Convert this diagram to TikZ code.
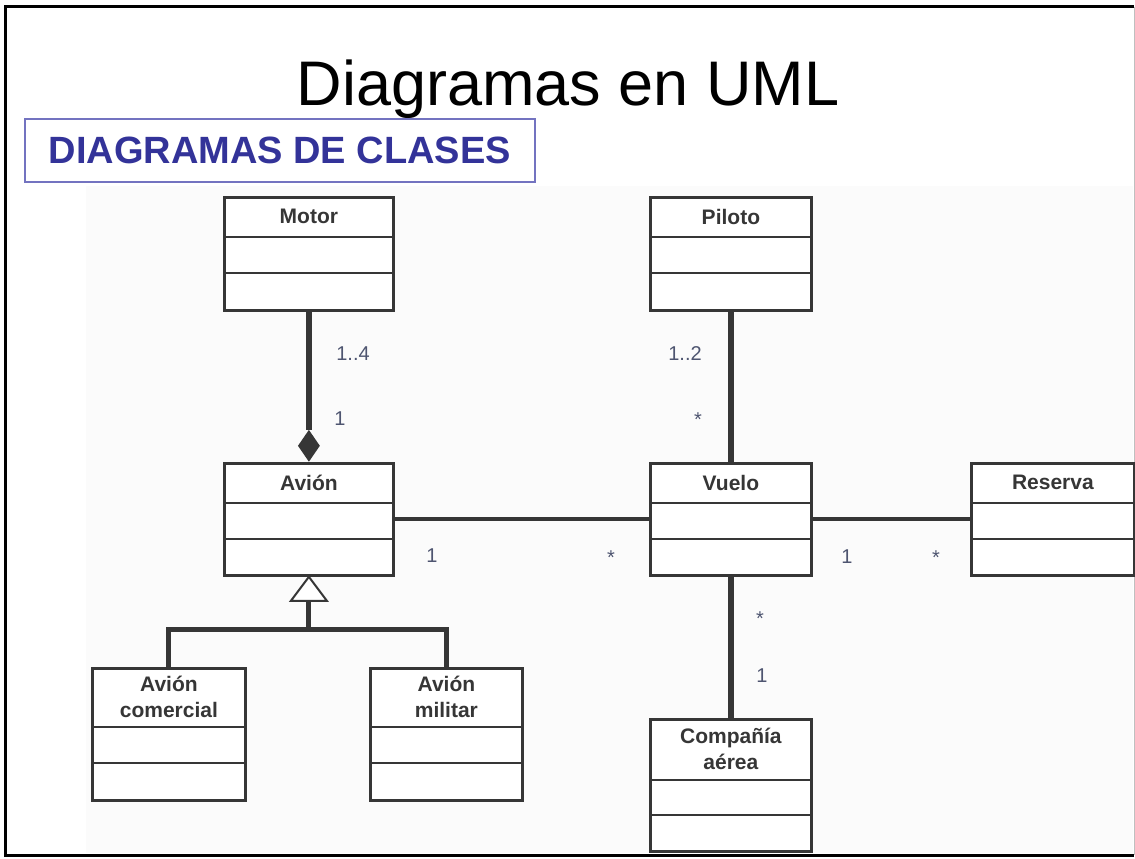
\documentclass[tikz,border=0pt]{standalone}
\usepackage{fontspec}
\setmainfont{Liberation Sans}
\usetikzlibrary{calc,shapes.geometric}

\definecolor{umlline}{HTML}{363636}
\definecolor{labelc}{HTML}{4E5570}
\definecolor{headblue}{HTML}{333399}
\definecolor{headframe}{HTML}{7373C0}
\definecolor{canvas}{HTML}{FBFBFB}

\tikzset{
  classbox/.style={draw=umlline, line width=2.8pt, rectangle, inner sep=0pt, fill=white},
  classline/.style={draw=umlline, line width=2.8pt},
  classname/.style={font=\fontsize{21}{26}\selectfont\bfseries, text=umlline, align=center, inner sep=0pt},
  assoc/.style={draw=umlline, line width=5.5pt},
  assocthin/.style={draw=umlline, line width=4pt},
  genline/.style={draw=umlline, line width=5pt},
  genhead/.style={draw=umlline, line width=2pt, fill=white, line join=miter},
  comphead/.style={diamond, fill=umlline, draw=none, inner sep=0pt, minimum width=22pt, minimum height=32pt},
  mult/.style={font=\fontsize{20}{24}\selectfont, text=labelc, anchor=base, inner sep=0pt},
}

% #1 name, #2 x, #3 y, #4 width, #5 height, #6 first divider, #7 second divider, #8 title
\newcommand{\umlclass}[8]{%
  \node[classbox, minimum width=#4pt, minimum height=#5pt, anchor=north west] (#1) at (#2,#3) {};
  \draw[classline] ([yshift={-#6pt}]#1.north west) -- ([yshift={-#6pt}]#1.north east);
  \draw[classline] ([yshift={-#7pt}]#1.north west) -- ([yshift={-#7pt}]#1.north east);
  \node[classname] (#1-name) at ([yshift={-0.5*#6pt}]#1.north) {#8};
}

\begin{document}
\begin{tikzpicture}[x=1pt, y=-1pt]
  \useasboundingbox (0,0) rectangle (1135,859);
  \fill[white] (0,0) rectangle (1135,859);
  \fill[canvas] (86,186) rectangle (1133,853);

  % slide frame
  \draw[black, line width=3pt] (1134,7) -- (5,7) -- (5,855) -- (1134,855);
  \draw[black!25, line width=1pt] (1134,7) -- (1134,855);

  % headings
  \node[font=\fontsize{63}{70}\selectfont, anchor=base, inner sep=0pt] (title) at (568,105) {Diagramas en UML};
  \node[draw=headframe, line width=1.5pt, fill=white, minimum width=510pt, minimum height=63pt,
        anchor=north west, inner sep=0pt, font=\fontsize{38}{44}\selectfont\bfseries, text=headblue]
        (header) at (24,118) {DIAGRAMAS DE CLASES};

  % classes
  \umlclass{motor}{223}{196}{169}{113}{41}{77}{Motor}
  \umlclass{piloto}{649}{196}{161}{113}{41}{77}{Piloto}
  \umlclass{avion}{223}{462}{169}{112}{41}{77}{Avión}
  \umlclass{vuelo}{649}{462}{161}{112}{41}{77}{Vuelo}
  \umlclass{reserva}{970}{462}{163}{112}{41}{77}{Reserva}
  \umlclass{comercial}{91}{667}{153}{132}{60}{96}{Avión\\comercial}
  \umlclass{militar}{369}{667}{152}{132}{60}{96}{Avión\\militar}
  \umlclass{compania}{649}{718}{161}{132}{62}{97}{Compañía\\aérea}

  % composition Motor -- Avion
  \node[comphead, anchor=south] (comp) at (avion.north) {};
  \draw[assoc] (motor.south) -- (comp.north);

  % associations
  \draw[assoc] (piloto.south) -- (vuelo.north);
  \draw[assoc] (vuelo.south) -- (compania.north);
  \draw[assocthin] (avion.east) -- (vuelo.west);
  \draw[assocthin] (vuelo.east) -- (reserva.west);

  % generalization
  \coordinate (genbase) at ($(avion.south)+(0,24)$);
  \coordinate (genjoin) at ($(genbase)+(0,29)$);
  \draw[genline] (genbase) -- (genjoin);
  \draw[genline] (comercial.north) |- (genjoin) -| (militar.north);
  \draw[genhead] (avion.south) -- ++(-18,24) -- ++(36,0) -- cycle;

  % multiplicities
  \node[mult] (m1) at (353,360) {1..4};
  \node[mult] (m2) at (340,425) {1};
  \node[mult] (m3) at (685,360) {1..2};
  \node[mult] (m4) at (698,426) {*};
  \node[mult] (m5) at (432,562) {1};
  \node[mult] (m6) at (611,564) {*};
  \node[mult] (m7) at (847,563) {1};
  \node[mult] (m8) at (936,564) {*};
  \node[mult] (m9) at (760,625) {*};
  \node[mult] (m10) at (762,682) {1};
\end{tikzpicture}
\end{document}
